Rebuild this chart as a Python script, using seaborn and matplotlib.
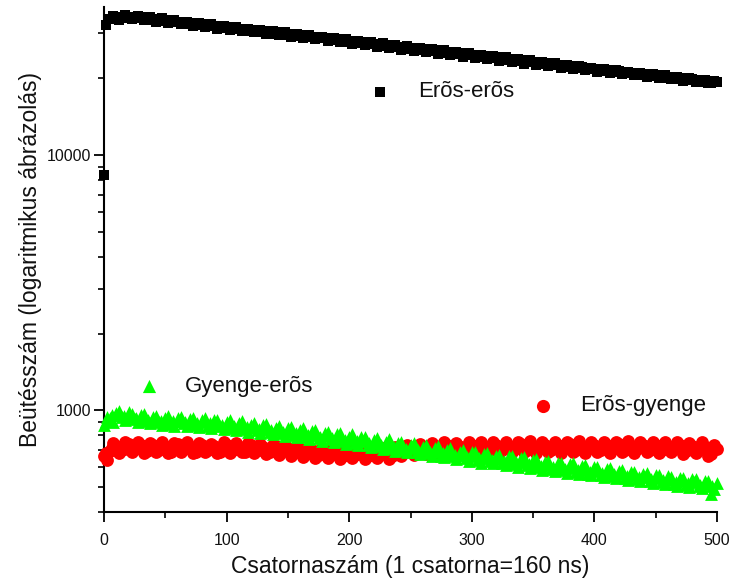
import numpy as np
import pandas as pd
import matplotlib
matplotlib.use("Agg")
import matplotlib.pyplot as plt
import seaborn as sns
from matplotlib.ticker import FixedLocator, LogLocator, NullFormatter, FixedFormatter

# ---------------- data ----------------
black_ch = [0, 2] + list(range(5, 501, 5))
black_counts = [8350, 32400,
    34000, 34700, 34300, 34800, 34400, 34600, 33900, 34200, 33500, 33800,
    33100, 33300, 32700, 32900, 32300, 32500, 31900, 32100, 31500, 31700,
    31100, 31300, 30700, 30900, 30300, 30600, 29900, 30200, 29600, 29800,
    29200, 29500, 28900, 29100, 28700, 28800, 28200, 28400, 27800, 28000,
    27500, 27600, 27100, 27300, 26800, 27000, 26400, 26600, 26100, 26300,
    25800, 26000, 25500, 25700, 25200, 25400, 24900, 25000, 24600, 24700,
    24300, 24400, 23900, 24100, 23600, 23800, 23300, 23500, 23100, 23200,
    22700, 22900, 22500, 22600, 22200, 22400, 21900, 22100, 21700, 21800,
    21400, 21600, 21200, 21300, 20900, 21000, 20600, 20800, 20400, 20500,
    20100, 20300, 19900, 20000, 19700, 19800, 19400, 19600, 19200, 19300]
black_ch_b = [c + 2.5 for c in range(5, 500, 5)]
black_counts_b = [
    35000, 33900, 35200, 34000, 35100, 33700, 34700, 33300, 34300, 33000,
    33800, 32500, 33300, 32100, 32900, 31700, 32500, 31300, 32100, 30900,
    31700, 30500, 31300, 30200, 30900, 29800, 30600, 29400, 30200, 29000,
    29800, 28700, 29500, 28400, 29100, 28000, 28800, 27700, 28400, 27300,
    28000, 26900, 27700, 26600, 27400, 26200, 27000, 25900, 26700, 25600,
    26300, 25300, 26000, 24900, 25700, 24600, 25300, 24300, 25000, 24000,
    24700, 23700, 24400, 23400, 24100, 23100, 23800, 22800, 23500, 22500,
    23200, 22300, 22900, 22000, 22600, 21800, 22300, 21500, 22000, 21200,
    21800, 21000, 21500, 20700, 21200, 20500, 21000, 20200, 20700, 20000,
    20500, 19800, 20200, 19500, 20000, 19300, 19700, 19100, 19500]

ch = list(range(0, 501, 5))
ch_b = [c + 2.5 for c in range(0, 500, 5)]
ch_c = [c + 1.25 for c in range(0, 500, 5)]
green_counts = [
    875, 935, 975, 940, 985, 925, 955, 905, 945, 900,
    935, 885, 930, 890, 925, 880, 915, 870, 920, 865,
    900, 855, 895, 845, 880, 835, 880, 825, 855, 815,
    850, 800, 835, 790, 830, 780, 815, 770, 805, 760,
    790, 745, 785, 735, 765, 725, 755, 710, 745, 700,
    730, 690, 720, 680, 715, 665, 700, 660, 690, 650,
    685, 640, 675, 635, 665, 625, 660, 615, 650, 610,
    640, 600, 630, 590, 625, 585, 615, 575, 605, 565,
    600, 560, 590, 555, 580, 545, 575, 540, 565, 530,
    560, 525, 555, 515, 545, 510, 540, 505, 530, 470,
    520]
green_counts_b = [
    940, 900, 995, 915, 970, 900, 965, 890, 950, 875,
    950, 870, 945, 865, 935, 860, 930, 855, 920, 845,
    915, 835, 905, 825, 895, 815, 885, 805, 870, 795,
    860, 785, 850, 770, 840, 760, 825, 750, 815, 740,
    805, 730, 790, 720, 780, 705, 770, 695, 755, 685,
    745, 675, 735, 665, 725, 655, 710, 645, 700, 635,
    690, 625, 680, 620, 670, 610, 665, 600, 655, 595,
    645, 585, 635, 580, 625, 570, 620, 565, 610, 560,
    600, 550, 595, 545, 585, 535, 575, 530, 570, 520,
    560, 515, 550, 505, 545, 500, 540, 495, 530, 490]
green_counts_c = [
    905, 955, 960, 948, 942, 930, 928, 918, 920, 910,
    912, 906, 907, 900, 903, 896, 897, 890, 888, 878,
    878, 868, 868, 858, 858, 848, 849, 836, 836, 824,
    824, 812, 813, 802, 802, 790, 791, 780, 781, 768,
    770, 758, 758, 745, 745, 732, 733, 720, 721, 708,
    710, 698, 699, 688, 689, 678, 678, 668, 670, 658,
    661, 651, 653, 642, 645, 634, 636, 626, 628, 618,
    619, 608, 610, 600, 602, 592, 594, 584, 586, 576,
    578, 568, 571, 561, 564, 554, 557, 547, 550, 540,
    543, 533, 536, 526, 529, 519, 522, 512, 515, 505]
red_counts = [
    660, 695, 725, 700, 740, 705, 730, 695, 735, 700,
    725, 690, 740, 705, 720, 690, 735, 700, 725, 690,
    730, 700, 720, 690, 735, 700, 720, 685, 725, 695,
    710, 680, 705, 675, 700, 670, 700, 670, 690, 665,
    690, 670, 695, 660, 690, 670, 695, 665, 700, 680,
    715, 690, 720, 695, 725, 700, 730, 700, 720, 695,
    730, 705, 725, 700, 735, 700, 725, 705, 740, 700,
    725, 705, 735, 700, 730, 705, 740, 700, 725, 705,
    735, 700, 730, 705, 740, 700, 725, 705, 735, 700,
    730, 700, 725, 705, 735, 695, 725, 700, 720, 675,
    705]
red_counts_b = [
    640, 745, 680, 750, 685, 750, 680, 745, 685, 750,
    680, 745, 685, 750, 680, 745, 685, 740, 680, 750,
    680, 745, 685, 745, 680, 740, 675, 735, 670, 730,
    665, 725, 655, 715, 650, 715, 650, 710, 645, 710,
    650, 715, 645, 710, 650, 715, 645, 720, 660, 735,
    670, 740, 675, 745, 680, 750, 685, 745, 680, 750,
    685, 755, 685, 750, 680, 755, 685, 750, 685, 760,
    680, 750, 685, 755, 680, 750, 685, 760, 680, 750,
    685, 755, 680, 750, 685, 760, 680, 750, 685, 755,
    680, 750, 685, 755, 675, 745, 680, 750, 665, 730]
red_counts_c = [
    680, 712, 718, 708, 722, 710, 716, 706, 720, 712,
    714, 708, 720, 710, 716, 706, 722, 712, 714, 708,
    716, 706, 718, 704, 712, 700, 708, 698, 704, 692,
    698, 688, 694, 684, 692, 680, 690, 680, 686, 678,
    684, 676, 688, 678, 686, 680, 690, 684, 696, 700,
    704, 700, 710, 706, 714, 708, 716, 710, 718, 712,
    716, 712, 720, 714, 718, 712, 722, 714, 720, 716,
    718, 712, 722, 714, 720, 716, 724, 712, 720, 714,
    718, 714, 724, 716, 720, 712, 722, 716, 724, 714,
    720, 712, 718, 714, 722, 710, 716, 712, 714, 700]

labels = ["Erõs-erõs", "Gyenge-erõs", "Erõs-gyenge"]
x_ticks = [0, 100, 200, 300, 400, 500]
y_ticks = [1000, 10000]
xlabel = "Csatornaszám (1 csatorna=160 ns)"
ylabel = "Beütésszám (logaritmikus ábrázolás)"

# ---------------- plot ----------------
sns.set_style("ticks")
plt.rcParams['font.family'] = ['Liberation Sans', 'DejaVu Sans']

fig = plt.figure(figsize=(7.35, 5.83), dpi=100)
ax = fig.add_axes([104 / 735, 71 / 583, 613 / 735, 505 / 583])

df_b = pd.DataFrame({"ch": black_ch + black_ch_b, "n": black_counts + black_counts_b})
df_g = pd.DataFrame({"ch": ch + ch_b + ch_c,
                     "n": green_counts + green_counts_b + green_counts_c})
df_r = pd.DataFrame({"ch": ch + ch_b + ch_c,
                     "n": red_counts + red_counts_b + red_counts_c})

sns.scatterplot(data=df_b, x="ch", y="n", ax=ax, color="#000000", marker="s",
                s=60, linewidth=0, clip_on=False, zorder=3)
sns.scatterplot(data=df_r, x="ch", y="n", ax=ax, color="#ff0000", marker="o",
                s=85, linewidth=0, clip_on=False, zorder=3)
sns.scatterplot(data=df_g, x="ch", y="n", ax=ax, color="#00ff00", marker="^",
                s=85, linewidth=0, clip_on=False, zorder=3)

ax.set_yscale("log")
ax.set_xlim(0, 500)
ax.set_ylim(400, 38000)

ax.xaxis.set_major_locator(FixedLocator(x_ticks))
ax.xaxis.set_minor_locator(FixedLocator([50, 150, 250, 350, 450]))
ax.yaxis.set_major_locator(FixedLocator(y_ticks))
ax.yaxis.set_major_formatter(FixedFormatter([str(v) for v in y_ticks]))
ax.yaxis.set_minor_locator(LogLocator(base=10, subs=np.arange(2, 10)))
ax.yaxis.set_minor_formatter(NullFormatter())

ax.tick_params(which="major", direction="out", length=7, width=1.3,
               labelsize=11.5, color="black", labelcolor="#111111")
ax.tick_params(which="minor", direction="out", length=4.5, width=1.2, color="black")
ax.tick_params(axis="x", which="major", pad=8)
ax.tick_params(axis="y", which="major", pad=2)

for side in ["top", "right"]:
    ax.spines[side].set_visible(False)
for side in ["left", "bottom"]:
    ax.spines[side].set_linewidth(1.5)
    ax.spines[side].set_color("black")

ax.set_xlabel(xlabel, fontsize=16.5, color="#111111", labelpad=5)
ax.set_ylabel(ylabel, fontsize=16.5, color="#111111", labelpad=4)

# in-plot legend labels
leg = [
    (labels[0], "s", "#000000", 0.450, 0.832, 0.512, 48),
    (labels[1], "^", "#00ff00", 0.0734, 0.2495, 0.132, 90),
    (labels[2], "o", "#ff0000", 0.716, 0.210, 0.7765, 90),
]
for text, mk, col, mx, my, tx, sz in leg:
    ax.scatter([mx], [my], transform=ax.transAxes, marker=mk, color=col,
               s=sz, linewidths=0, zorder=4, clip_on=False)
    ax.text(tx, my, text, transform=ax.transAxes, fontsize=16,
            va="center", ha="left", color="#111111")

fig.savefig("out.png", dpi=100)
